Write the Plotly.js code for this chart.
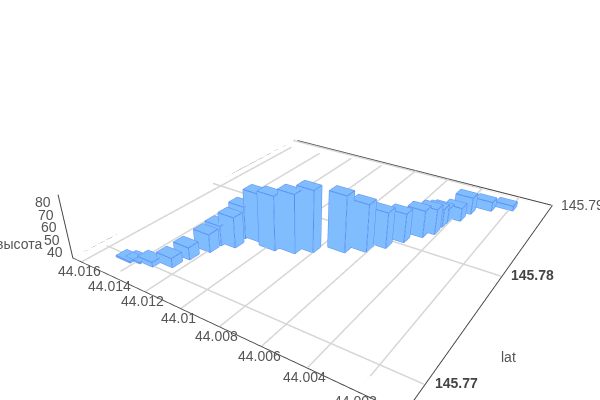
<!DOCTYPE html>
<html style="overflow:hidden"><head><meta charset="utf-8"><script src="https://cdn.plot.ly/plotly-3.0.1.min.js"></script></head>
<body style="margin:0;background:#fff;overflow:hidden"><div id="g" style="width:600px;height:500px"></div>
<script>
var lat=[145.76988,145.77011,145.7703,145.77087,145.77201,145.77327,145.77421,145.7745,145.77566,145.77584,145.77555,145.77593,145.77662,145.77766,145.7784,145.77943,145.78063,145.78181,145.78256,145.78367,145.7843,145.78506,145.7863,145.78746,145.7883];
var lon=[44.01461,44.0142,44.01355,44.0128,44.01262,44.01229,44.01225,44.0116,44.01173,44.01093,44.00995,44.00906,44.00842,44.00724,44.00645,44.00589,44.00543,44.00491,44.00456,44.00455,44.00449,44.00404,44.00388,44.00314,44.00225];
var h=[36,36,38.7,42.5,44.9,49.7,51.3,60,61.6,74.8,79.2,82.6,85,80.9,73.8,64.3,58.9,57.4,56.1,50.3,47.5,46.2,49.4,42.9,39.1];
var latTicks=[145.77,145.78,145.79];
var latLabels=['145.77','145.78','145.79'];
var lonTicks=[44.002,44.004,44.006,44.008,44.01,44.012,44.014,44.016];
var lonLabels=['44.002','44.004','44.006','44.008','44.01','44.012','44.014','44.016'];
var zTicks=[40,50,60,70,80];
var latRange=[145.768,145.7902],lonRange=[44.0003,44.0166],zRange=[34.8,85.2];
var W=0.0004,D=0.00045,Z0=35,inset=0.00004;
var xs=[],ys=[],zs=[],I=[],J=[],K=[],ex=[],ey=[],ez=[];
var c=[[-1,-1,0],[1,-1,0],[1,1,0],[-1,1,0],[-1,-1,1],[1,-1,1],[1,1,1],[-1,1,1]];
var edges=[[0,1],[1,2],[2,3],[3,0],[4,5],[5,6],[6,7],[7,4],[0,4],[1,5],[2,6],[3,7]];
lat.forEach(function(a,n){
 var o=xs.length, P=c.map(function(p){return [a+p[0]*W,lon[n]+p[1]*D,p[2]?h[n]:Z0];});
 P.forEach(function(p){xs.push(p[0]);ys.push(p[1]);zs.push(p[2]);});
 [[0,1,2],[0,2,3],[4,5,6],[4,6,7],[0,1,5],[0,5,4],[1,2,6],[1,6,5],[2,3,7],[2,7,6],[3,0,4],[3,4,7]].forEach(function(t){I.push(o+t[0]);J.push(o+t[1]);K.push(o+t[2]);});
 edges.forEach(function(e){ex.push(P[e[0]][0],P[e[1]][0],null);ey.push(P[e[0]][1],P[e[1]][1],null);ez.push(P[e[0]][2],P[e[1]][2],null);});
});
var latA=latRange[0]+inset,latB=latRange[1]-inset,lonA=lonRange[0]+inset,lonB=lonRange[1]-inset;
var gx=[],gy=[],gz=[];
latTicks.forEach(function(t){gx.push(t,t,null,t,t,null);gy.push(lonA,lonB,null,lonB,lonA,null);gz.push(Z0,Z0,null,Z0,Z0,null);});
lonTicks.forEach(function(t){gx.push(latA,latB,null,latB,latA,null);gy.push(t,t,null,t,t,null);gz.push(Z0,Z0,null,Z0,Z0,null);});
var ax={showbackground:false,showgrid:false,linecolor:'#444',linewidth:2,showline:true,zeroline:false,showticklabels:false,title:{text:''}};
var tf={size:14,color:'#555',family:'Liberation Sans, Arial, sans-serif'};
var notes=[
 {x:latRange[0],y:lonRange[1],z:60,text:'высота',showarrow:false,xshift:-47,yshift:-17,font:tf},
 {x:latTicks[0],y:lonRange[0],z:Z0,text:'lat',showarrow:false,xshift:83,yshift:27,font:tf}];
latTicks.forEach(function(t,n){notes.push({x:t,y:lonRange[0],z:Z0,text:n<2?'<b>'+latLabels[n]+'</b>':latLabels[n],showarrow:false,xshift:31,yshift:1,font:n<2?{size:14,color:'#444',family:tf.family}:tf});});
lonTicks.forEach(function(t,n){notes.push({x:latRange[0],y:t,z:Z0,text:lonLabels[n],showarrow:false,xshift:-2.5,yshift:-9.5,font:tf});});
zTicks.forEach(function(t){notes.push({x:latRange[0],y:lonRange[1],z:t,text:String(t),showarrow:false,xshift:-17,yshift:0,font:tf});});
Plotly.newPlot('g',[
 {type:'scatter3d',mode:'lines',x:gx,y:gy,z:gz,line:{color:'#d6d6d6',width:3},hoverinfo:'skip',showlegend:false},
 {type:'scatter3d',mode:'lines',x:[latA,latB,latB],y:[lonB,lonB,lonA],z:[Z0,Z0,Z0],line:{color:'#444',width:2},hoverinfo:'skip',showlegend:false},
 {type:'scatter3d',mode:'lines',x:[latB,latB,latA],y:[lonA,lonB,lonB],z:[Z0,Z0,Z0],line:{color:'#444',width:2},hoverinfo:'skip',showlegend:false},
 {type:'mesh3d',x:xs,y:ys,z:zs,i:I,j:J,k:K,color:'#80bdff',flatshading:true,opacity:1,lighting:{ambient:1,diffuse:0,specular:0,roughness:1,fresnel:0}},
 {type:'scatter3d',mode:'lines',x:ex,y:ey,z:ez,line:{color:'#5b8def',width:2},hoverinfo:'skip',showlegend:false}],{
 width:600,height:500,margin:{l:0,r:0,t:0,b:0},paper_bgcolor:'#fff',font:{family:'Liberation Sans, Arial, sans-serif'},showlegend:false,
 scene:{domain:{x:[0,1],y:[0,1]},aspectmode:'manual',aspectratio:{x:1.03,y:0.97,z:0.187},
  camera:{eye:{x:-1.292,y:-0.778,z:0.767},center:{x:-0.25,y:-0.065,z:-0.012},up:{x:0,y:0,z:1}},
  xaxis:Object.assign({},ax,{range:latRange,tickvals:latTicks}),
  yaxis:Object.assign({},ax,{range:lonRange,tickvals:lonTicks}),
  zaxis:Object.assign({},ax,{range:zRange,tickvals:zTicks}),
  annotations:notes
 }},{displayModeBar:false});
</script></body></html>
